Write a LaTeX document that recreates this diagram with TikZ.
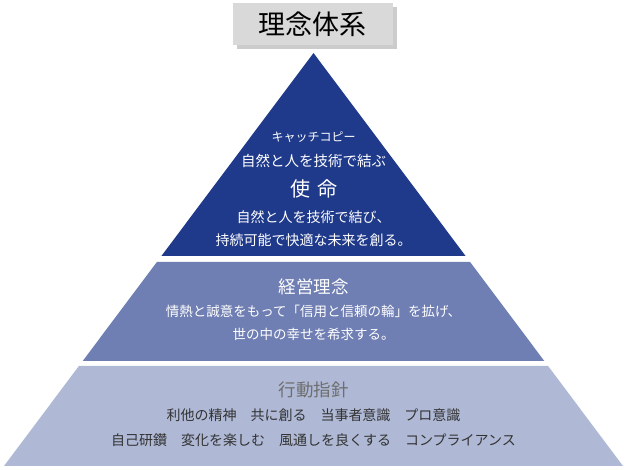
\documentclass[tikz,border=0pt]{standalone}
\usepackage{fontspec}
\setmainfont{Noto Sans CJK JP}
\usetikzlibrary{shadows}
\definecolor{navy}{HTML}{1F3A8B}
\definecolor{mid}{HTML}{6F7EB3}
\definecolor{pale}{HTML}{AFB9D6}
\definecolor{boxgray}{HTML}{D9D9D9}
\definecolor{ink}{HTML}{333333}
\definecolor{headgray}{HTML}{6E6E6E}

\begin{document}
\begin{tikzpicture}[x=1pt,y=-1pt,
  lbl/.style={inner sep=0pt,anchor=center},
  fs/.style={font=\fontsize{#1}{#1}\selectfont}]
\useasboundingbox (0,0) rectangle (630,470);
% pyramid bands
\fill[navy] (313.5,53) -- (465.6,256) -- (161.4,256) -- cycle;
\fill[mid] (156.9,262) -- (470.1,262) -- (544.3,361) -- (82.7,361) -- cycle;
\fill[pale] (78.9,366) -- (548.1,366) -- (623,466) -- (4,466) -- cycle;
% title
\node[fill=boxgray,minimum width=160pt,minimum height=42pt,inner sep=0pt,
  drop shadow={shadow xshift=4pt,shadow yshift=-4pt,opacity=.4},fs=27] (title) at (312.5,24.5) {理念体系};
% top band
\node[lbl,text=white,fs=12] (copy) at (313.5,137) {キャッチコピー};
\node[lbl,text=white,fs=14.5] (copytxt) at (313.5,161) {自然と人を技術で結ぶ};
\node[lbl,text=white,fs=20] (mission) at (313.5,189) {使\hspace{0.35em}命};
\node[lbl,text=white,fs=14] (mis1) at (313.5,217) {自然と人を技術で結び、};
\node[lbl,text=white,fs=14] (mis2) at (313.5,240) {持続可能で快適な未来を創る。};
% middle band
\node[lbl,text=white,fs=17.5] (philo) at (313.5,287) {経営理念};
\node[lbl,text=white,fs=13.5] (phi1) at (313.5,311) {情熱と誠意をもって「信用と信頼の輪」を拡げ、};
\node[lbl,text=white,fs=13.5] (phi2) at (313.5,334) {世の中の幸せを希求する。};
% bottom band
\node[lbl,text=headgray,fs=17.5] (guide) at (313.5,390) {行動指針};
\node[lbl,text=ink,fs=14] (gd1) at (313.5,415) {利他の精神　共に創る　当事者意識　プロ意識};
\node[lbl,text=ink,fs=14] (gd2) at (313.5,440) {自己研鑽　変化を楽しむ　風通しを良くする　コンプライアンス};
\end{tikzpicture}
\end{document}
